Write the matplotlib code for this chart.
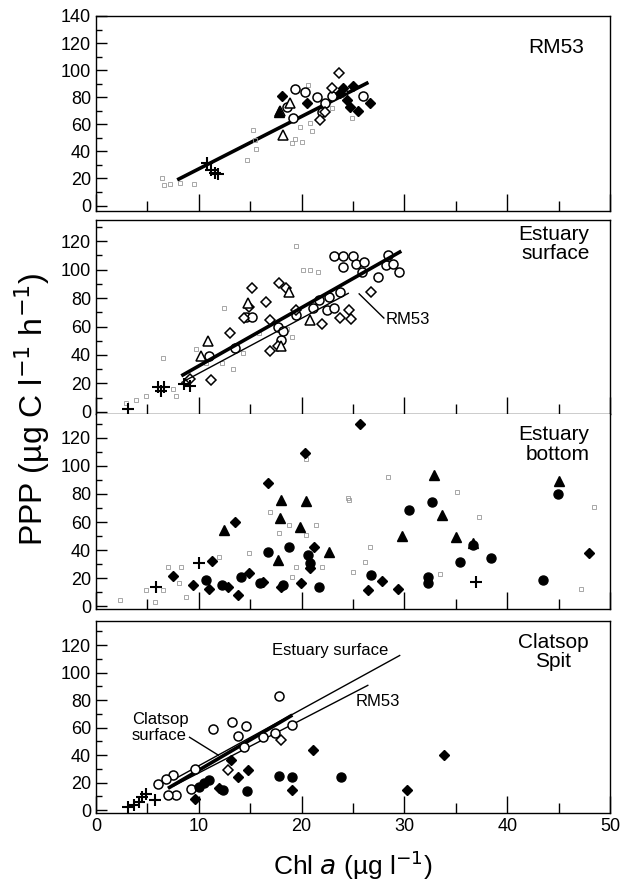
import matplotlib.pyplot as plt
from matplotlib.ticker import MultipleLocator

plt.rcParams['font.family'] = ['Liberation Sans', 'DejaVu Sans']

# ---- panel 1: RM53 ----
p1_ocirc_x = [19.4, 20.3, 21.5, 23.0, 22.3, 22.0, 19.2, 18.6, 26.0]
p1_ocirc_y = [86, 84, 80, 81, 75.5, 69, 65, 73, 81]
p1_odiam_x = [23.6, 23.0, 24.0, 21.8, 22.3]
p1_odiam_y = [98, 87, 84, 63, 69]
p1_fdiam_x = [18.1, 20.5, 24.0, 25.0, 24.4, 25.5, 26.7, 24.7, 23.7]
p1_fdiam_y = [81, 76, 87, 88, 78, 70, 75.5, 73, 83]
p1_otri_x = [18.9, 18.2, 17.9]
p1_otri_y = [75.5, 52, 70]
p1_ftri_x = [17.8]
p1_ftri_y = [69]
p1_cross_x = [10.8, 11.6, 11.2, 11.9]
p1_cross_y = [31.5, 24, 26, 23]
p1_dot_x = [6.4, 6.6, 7.2, 8.2, 9.5, 15.3, 15.5, 15.6, 14.7, 19.8, 19.4, 20.8, 21.0,
            20.0, 19.1, 20.6, 24.9, 23.0]
p1_dot_y = [20.5, 15, 16, 17, 16, 56, 48.5, 42, 34, 58, 49.5, 61, 55, 47, 46, 89, 64.5, 72]

# ---- panel 2: Estuary surface ----
p2_ocirc_x = [23.2, 24.0, 25.0, 24.0, 25.3, 26.1, 25.9, 27.4, 28.4, 28.2, 28.9, 29.5,
              23.7, 22.7, 21.7, 21.1, 22.5, 23.2, 19.5, 17.7, 18.0, 14.6, 15.2, 13.5,
              11.0, 18.2]
p2_ocirc_y = [109.5, 109.5, 109.5, 101.6, 104, 105.6, 98.6, 95, 110, 103, 104, 98.6,
              84.6, 81, 78.7, 73, 72, 73, 68, 60, 50.6, 66.4, 66.4, 45, 39, 56.7]
p2_odiam_x = [15.2, 17.8, 18.5, 16.5, 14.9, 14.4, 13.0, 16.9, 17.7, 16.9, 22.0, 23.7,
              24.6, 24.8, 26.8, 11.2, 9.1, 19.5]
p2_odiam_y = [87, 90.5, 87, 77.6, 74, 66, 55.6, 64.6, 46, 42.8, 61.5, 66, 72, 65,
              84.6, 22.6, 23.3, 71.8]
p2_otri_x = [14.8, 10.9, 10.2, 20.8, 18.0, 18.8]
p2_otri_y = [76.5, 49.8, 39.3, 64.6, 46, 84.6]
p2_cross_x = [3.1, 6.0, 6.6, 6.3, 8.6, 9.1]
p2_cross_y = [2.2, 17.3, 17.3, 15, 19.6, 18.5]
p2_dot_x = [19.5, 20.8, 20.1, 21.6, 12.5, 6.5, 9.7, 12.3, 13.3, 4.9, 3.9, 2.9, 7.8,
            14.3, 15.9, 18.6, 19.1, 10.7, 7.5]
p2_dot_y = [117, 99.6, 100, 98.6, 73, 38, 44, 34.7, 30, 11, 8.4, 6, 11, 41.6, 55.6,
            58, 53, 34.7, 15.9]

# ---- panel 3: Estuary bottom ----
p3_fdiam_x = [20.3, 16.7, 13.5, 11.3, 7.5, 9.4, 11.0, 12.8, 13.8, 14.9, 16.2, 19.9,
              20.8, 21.2, 18.0, 25.7, 27.8, 26.5, 29.4, 48.0]
p3_fdiam_y = [109, 87.6, 60.2, 32.4, 21.7, 15, 12.6, 14, 8, 23.3, 17.4, 16.2, 26.9,
              42.4, 14, 130, 17.8, 11.4, 12.6, 37.6]
p3_ftri_x = [18.0, 20.4, 17.9, 12.5, 22.7, 17.7, 19.8, 32.9, 33.7, 29.8, 35.0, 36.7, 45.0]
p3_ftri_y = [76, 75.2, 62.6, 54.3, 38.8, 32.9, 56.7, 93.6, 65, 50, 49, 45, 89.5]
p3_fcirc_x = [16.7, 18.8, 20.6, 20.8, 21.7, 18.2, 14.1, 12.3, 10.7, 16.0, 30.4, 32.7,
              36.7, 35.4, 38.4, 32.3, 32.3, 26.8, 43.5, 44.9]
p3_fcirc_y = [38.8, 42.4, 36.4, 30.5, 14, 15.2, 21, 15, 18.6, 16.2, 68.6, 74.5, 43.4,
              31.7, 34, 21, 16.2, 22, 18.6, 80]
p3_cross_x = [10.0, 5.8, 37.0]
p3_cross_y = [30.5, 14, 17.4]
p3_dot_x = [20.4, 16.9, 18.8, 21.4, 17.8, 20.4, 14.9, 4.9, 6.5, 8.1, 7.0, 8.3, 12.0,
            19.5, 19.1, 24.6, 22.0, 5.7, 8.8, 2.3, 28.4, 24.5, 35.1, 37.3, 48.4, 26.7,
            26.2, 25.0, 33.5, 47.2]
p3_dot_y = [104.8, 67.4, 57.9, 57.9, 52, 50.7, 37.6, 11.4, 11.4, 16.2, 28, 28, 35.2,
            28, 21, 76, 28, 3, 6.9, 4.1, 92.4, 77, 81.7, 63.8, 71, 42.4, 31.7, 24.5,
            23, 12.6]

# ---- panel 4: Clatsop Spit ----
p4_ocirc_x = [17.8, 11.4, 13.2, 14.6, 13.8, 19.1, 17.4, 16.2, 14.4, 9.6, 7.5, 6.8,
              6.0, 7.8, 7.0, 9.2]
p4_ocirc_y = [82.9, 58.7, 64.2, 61.3, 53.8, 62, 55.8, 53.3, 46, 30.3, 25.5, 23, 19.4,
              11, 11, 15.7]
p4_odiam_x = [18.0, 12.8]
p4_odiam_y = [51, 29]
p4_fdiam_x = [21.1, 33.9, 13.1, 14.8, 13.8, 30.3, 19.1, 12.0, 9.6]
p4_fdiam_y = [43.6, 40, 36.4, 29, 24.2, 15, 15, 16, 8.4]
p4_fcirc_x = [17.8, 19.1, 23.8, 14.7, 12.4, 11.0, 10.5, 10.0]
p4_fcirc_y = [24.6, 23.8, 23.8, 13.8, 15, 21.8, 20, 17.1]
p4_cross_x = [3.1, 4.2, 4.9, 5.7, 4.5, 3.7]
p4_cross_y = [2.4, 6, 12, 7.3, 9.5, 3.7]

# regression lines: slope, intercept, x range
rm53_fit = [3.87, -11.6]
rm53_xr = [7.9, 26.5]
est_fit = [4.1, -8.7]
est_xr = [8.3, 29.7]
clat_fit = [4.4, -14.9]
clat_xr = [7.0, 19.1]


def line(ax, fit, xr, lw, **kw):
    ys = [fit[0] * x + fit[1] for x in xr]
    ax.plot(xr, ys, color='black', lw=lw, solid_capstyle='butt', **kw)


def pts(ax, x, y, kind):
    if kind == 'oc':
        ax.plot(x, y, 'o', ms=6.5, mfc='white', mec='black', mew=1.1, ls='none')
    elif kind == 'fc':
        ax.plot(x, y, 'o', ms=6.5, mfc='black', mec='black', ls='none')
    elif kind == 'od':
        ax.plot(x, y, 'D', ms=5.5, mfc='white', mec='black', mew=1.1, ls='none')
    elif kind == 'fd':
        ax.plot(x, y, 'D', ms=5.5, mfc='black', mec='black', ls='none')
    elif kind == 'ot':
        ax.plot(x, y, '^', ms=6.5, mfc='white', mec='black', mew=1.1, ls='none')
    elif kind == 'ft':
        ax.plot(x, y, '^', ms=6.5, mfc='black', mec='black', ls='none')
    elif kind == 'cr':
        ax.plot(x, y, '+', ms=8, mec='black', mew=1.5, ls='none')
    elif kind == 'dot':
        ax.plot(x, y, 's', ms=3.5, mfc='none', mec='0.6', mew=0.6, ls='none')


fig = plt.figure(figsize=(6.29, 8.88), dpi=100)
L, W = 0.1526, 0.8172
ax1 = fig.add_axes([L, 0.7624, W, 0.2196])
ax2 = fig.add_axes([L, 0.5338, W, 0.2185])
ax3 = fig.add_axes([L, 0.3142, W, 0.2196])
ax4 = fig.add_axes([L, 0.0845, W, 0.2162])

ax1.set_ylim(-4, 140)
ax2.set_ylim(-1.5, 135)
ax3.set_ylim(-2, 137)
ax4.set_ylim(-2, 137.5)

for ax in (ax1, ax2, ax3, ax4):
    ax.set_xlim(0, 50)
    ax.xaxis.set_major_locator(MultipleLocator(10))
    ax.xaxis.set_minor_locator(MultipleLocator(5))
    ax.yaxis.set_major_locator(MultipleLocator(20))
    ax.yaxis.set_minor_locator(MultipleLocator(10))
    ax.tick_params(axis='both', which='major', direction='in', labelsize=13)
    ax.tick_params(axis='x', which='major', length=12, width=1)
    ax.tick_params(axis='x', which='minor', direction='in', length=7, width=1)
    ax.tick_params(axis='y', which='major', length=8, width=1)
    ax.tick_params(axis='y', which='minor', direction='in', length=4, width=1)
    for s in ax.spines.values():
        s.set_linewidth(1)
    if ax is not ax4:
        ax.tick_params(axis='x', labelbottom=False)

ax1.set_yticks(range(0, 141, 20))
for ax in (ax2, ax3, ax4):
    ax.set_yticks(range(0, 121, 20))
ax3.spines['top'].set_visible(False)

# panel 1
line(ax1, rm53_fit, rm53_xr, 2.6)
pts(ax1, p1_dot_x, p1_dot_y, 'dot')
pts(ax1, p1_ocirc_x, p1_ocirc_y, 'oc')
pts(ax1, p1_odiam_x, p1_odiam_y, 'od')
pts(ax1, p1_fdiam_x, p1_fdiam_y, 'fd')
pts(ax1, p1_otri_x, p1_otri_y, 'ot')
pts(ax1, p1_ftri_x, p1_ftri_y, 'ft')
pts(ax1, p1_cross_x, p1_cross_y, 'cr')
ax1.text(47.5, 117, 'RM53', ha='right', va='center', fontsize=15)

# panel 2
pts(ax2, p2_dot_x, p2_dot_y, 'dot')
pts(ax2, p2_ocirc_x, p2_ocirc_y, 'oc')
pts(ax2, p2_odiam_x, p2_odiam_y, 'od')
pts(ax2, p2_otri_x, p2_otri_y, 'ot')
pts(ax2, p2_cross_x, p2_cross_y, 'cr')
line(ax2, est_fit, est_xr, 2.6)
line(ax2, rm53_fit, [8.3, 24.6], 1.0)
ax2.plot([25.6, 28.0], [83, 66], color='black', lw=1)
ax2.text(28.2, 65, 'RM53', ha='left', va='center', fontsize=12)
ax2.text(48, 118, 'Estuary\nsurface', ha='right', va='center', fontsize=15,
         linespacing=1.05)

# panel 3
pts(ax3, p3_dot_x, p3_dot_y, 'dot')
pts(ax3, p3_fdiam_x, p3_fdiam_y, 'fd')
pts(ax3, p3_ftri_x, p3_ftri_y, 'ft')
pts(ax3, p3_fcirc_x, p3_fcirc_y, 'fc')
pts(ax3, p3_cross_x, p3_cross_y, 'cr')
ax3.text(48, 115, 'Estuary\nbottom', ha='right', va='center', fontsize=15,
         linespacing=1.05)

# panel 4
line(ax4, est_fit, [7.5, 29.6], 1.0)
line(ax4, rm53_fit, [7.5, 26.5], 1.0)
line(ax4, clat_fit, clat_xr, 2.6)
pts(ax4, p4_ocirc_x, p4_ocirc_y, 'oc')
pts(ax4, p4_odiam_x, p4_odiam_y, 'od')
pts(ax4, p4_fdiam_x, p4_fdiam_y, 'fd')
pts(ax4, p4_fcirc_x, p4_fcirc_y, 'fc')
pts(ax4, p4_cross_x, p4_cross_y, 'cr')
ax4.text(28.4, 116, 'Estuary surface', ha='right', va='center', fontsize=12)
ax4.text(25.3, 79, 'RM53', ha='left', va='center', fontsize=12)
ax4.text(3.5, 60, 'Clatsop\nsurface', ha='left', va='center', fontsize=12,
         linespacing=1.1)
ax4.plot([9.1, 11.9], [53, 40], color='black', lw=1)
ax4.text(44.5, 115, 'Clatsop\nSpit', ha='center', va='center', fontsize=15,
         linespacing=1.05)
ax4.set_xlabel('Chl $\\it{a}$ (µg l$^{-1}$)', fontsize=19, labelpad=10)

fig.text(0.051, 0.539, 'PPP (µg C l$^{-1}$ h$^{-1}$)', rotation=90, ha='center',
         va='center', fontsize=23)

fig.savefig('out.png', dpi=100)
